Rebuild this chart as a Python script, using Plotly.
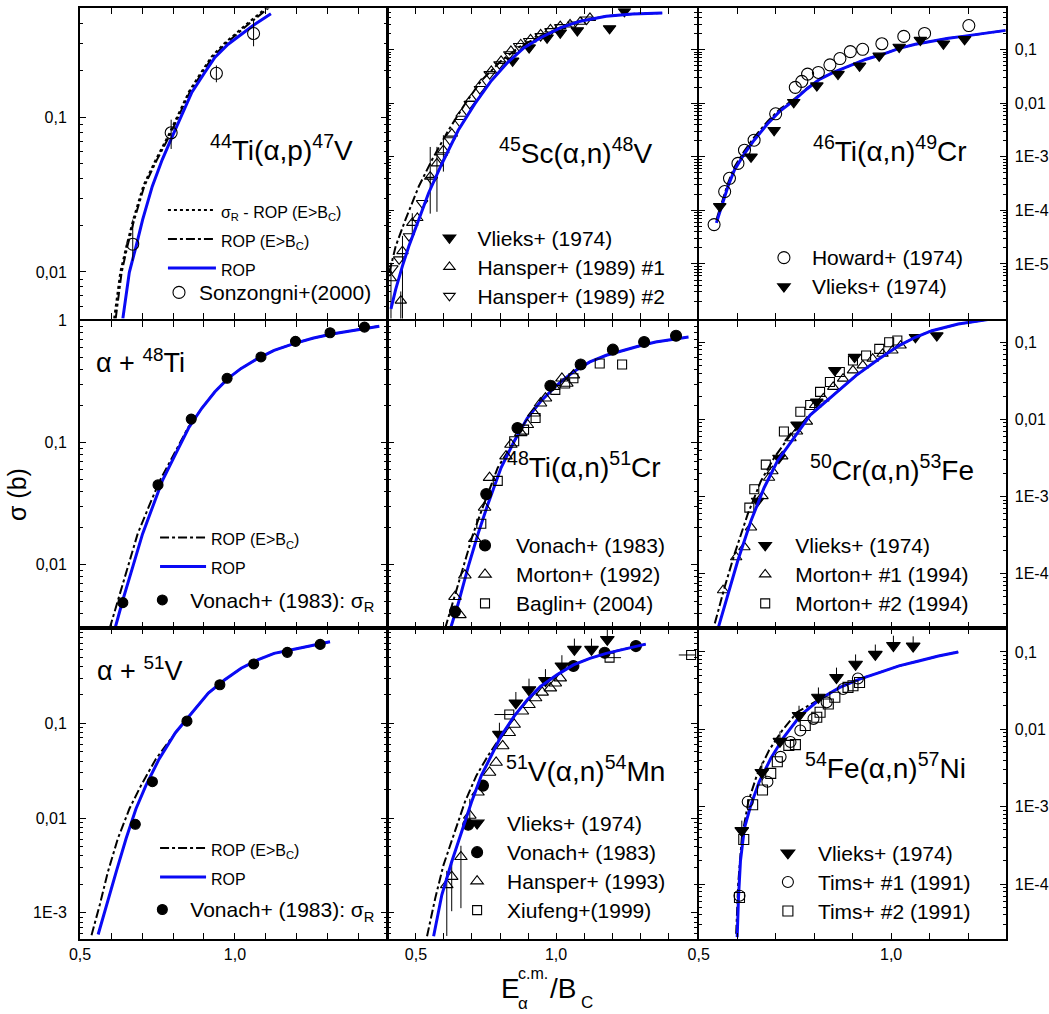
import math
import plotly.graph_objects as go

FONT = "Liberation Sans, Arial, sans-serif"
W, H = 1049, 1014

# ---------------- 44Ti(a,p)47V ----------------
TI44_ROP_X = [0.638, 0.659, 0.681, 0.702, 0.733, 0.765, 0.797, 0.829, 0.861, 0.903, 0.935, 0.978, 1.020, 1.063, 1.116]
TI44_ROP_S = [0.00499, 0.00993, 0.0147, 0.0218, 0.0357, 0.053, 0.0746, 0.105, 0.145, 0.195, 0.243, 0.296, 0.343, 0.397, 0.466]
TI44_ROPBC_X = [0.615, 0.634, 0.653, 0.675, 0.707, 0.748, 0.787, 0.822, 0.854, 0.895, 0.927, 0.968, 1.010, 1.051, 1.099, 1.125]
TI44_ROPBC_S = [0.005, 0.0099, 0.0147, 0.0218, 0.0357, 0.053, 0.0746, 0.105, 0.145, 0.195, 0.243, 0.296, 0.350, 0.410, 0.490, 0.54]
TI44_SR_X = [0.610, 0.630, 0.650, 0.672, 0.704, 0.745, 0.784, 0.820, 0.852, 0.893, 0.925, 0.966, 1.008, 1.049, 1.097, 1.12]
TI44_SR_S = [0.005, 0.0100, 0.0148, 0.0220, 0.0360, 0.0535, 0.0755, 0.106, 0.147, 0.198, 0.247, 0.300, 0.356, 0.418, 0.50, 0.54]
SONZ_X = [0.670, 0.794, 0.940, 1.060]
SONZ_S = [0.0151, 0.0793, 0.192, 0.347]
SONZ_EP = [0.0067, 0.017, 0.024, 0.08]
SONZ_EM = [0.0033, 0.017, 0.024, 0.06]

# ---------------- 45Sc(a,n)48V ----------------
SC45_ROP_X = [0.411, 0.428, 0.452, 0.475, 0.510, 0.545, 0.593, 0.651, 0.710, 0.769, 0.827, 0.886, 0.945, 1.015, 1.086, 1.179, 1.273, 1.379]
SC45_ROP_S = [1.45e-6, 3.4e-6, 9.2e-6, 2.16e-5, 6.7e-5, 2.09e-4, 7.5e-4, 3.13e-3, 9.7e-3, 0.0264, 0.0575, 0.109, 0.167, 0.256, 0.340, 0.422, 0.465, 0.485]
SC45_ROPBC_X = [0.405, 0.428, 0.463, 0.510, 0.557, 0.616, 0.675, 0.733, 0.804, 0.874, 0.945, 1.015, 1.086, 1.179, 1.273, 1.379]
SC45_ROPBC_S = [6.9e-6, 2.16e-5, 6.8e-5, 2.79e-4, 8.7e-4, 3.13e-3, 9.7e-3, 0.0264, 0.0618, 0.117, 0.179, 0.256, 0.340, 0.422, 0.465, 0.485]
SC45_VLIEKS_X = [0.845, 0.904, 0.968, 1.015, 1.076, 1.191, 1.244]
SC45_VLIEKS_S = [0.0618, 0.109, 0.167, 0.207, 0.228, 0.249, 0.521]
SC45_H1_X = [0.411, 0.446, 0.452, 0.487, 0.505, 0.551, 0.575, 0.598, 0.628, 0.663, 0.698, 0.733, 0.769, 0.804, 0.839, 0.874, 0.909, 0.945, 0.980, 1.015, 1.050, 1.086, 1.121]
SC45_H1_S = [5.4e-6, 2.07e-6, 1.74e-5, 5.84e-5, 7.22e-5, 4.27e-4, 7.54e-4, 1.33e-3, 2.71e-3, 6.35e-3, 0.01205, 0.0229, 0.0403, 0.0618, 0.0946, 0.126, 0.156, 0.193, 0.238, 0.275, 0.295, 0.331, 0.392]
SC45_H1_EP = [5.2e-6, 1.0e-6, 1.6e-5, 3.0e-5, 0, 1.1e-3, 7.8e-4, 1.2e-3, 0, 0, 0, 0, 0, 0, 0, 0, 0, 0, 0, 0, 0, 0, 0]
SC45_H1_EM = [5.3e-6, 2.06e-6, 1.7e-5, 3.0e-5, 0, 3.4e-4, 6.6e-4, 8.0e-4, 0, 0, 0, 0, 0, 0, 0, 0, 0, 0, 0, 0, 0, 0, 0]
SC45_H2_X = [0.416, 0.440, 0.475, 0.522, 0.557, 0.593, 0.622, 0.657, 0.692, 0.728, 0.763, 0.798, 0.833, 0.868, 0.904, 0.945, 0.980, 1.015, 1.062, 1.109]
SC45_H2_S = [8.3e-6, 1.22e-5, 3.30e-5, 1.37e-4, 3.71e-4, 1.0e-3, 2.04e-3, 4.46e-3, 9.73e-3, 0.01846, 0.0350, 0.0536, 0.0820, 0.117, 0.145, 0.179, 0.222, 0.263, 0.295, 0.365]

# ---------------- 46Ti(a,n)49Cr ----------------
TI46_ROP_X = [0.546, 0.559, 0.576, 0.593, 0.619, 0.644, 0.679, 0.713, 0.747, 0.781, 0.815, 0.850, 0.892, 0.935, 0.978, 1.021, 1.063, 1.106, 1.149, 1.191, 1.234, 1.298]
TI46_ROP_S = [5.84e-5, 1.19e-4, 2.79e-4, 5.67e-4, 1.15e-3, 2.04e-3, 4.15e-3, 7.33e-3, 0.0112, 0.01846, 0.0282, 0.0376, 0.0499, 0.0664, 0.082, 0.106, 0.126, 0.145, 0.163, 0.179, 0.198, 0.229]
TI46_ROPBC_X = [0.546, 0.559, 0.576, 0.593, 0.619, 0.644, 0.679, 0.713, 0.747, 0.781, 0.815, 0.850, 0.892, 0.935, 0.978, 1.021, 1.063, 1.106, 1.149, 1.191, 1.234, 1.298]
TI46_ROPBC_S = [6.7e-5, 1.37e-4, 3.2e-4, 6.5e-4, 1.3e-3, 2.3e-3, 4.6e-3, 8.0e-3, 0.0118, 0.0190, 0.0285, 0.0376, 0.0499, 0.0664, 0.082, 0.106, 0.126, 0.145, 0.163, 0.179, 0.198, 0.229]
HOWARD_X = [0.540, 0.5675, 0.580, 0.602, 0.619, 0.644, 0.700, 0.751, 0.768, 0.783, 0.811, 0.841, 0.867, 0.894, 0.926, 0.976, 1.033, 1.087, 1.202]
HOWARD_S = [5.43e-5, 2.25e-4, 3.97e-4, 7.53e-4, 1.33e-3, 2.04e-3, 6.35e-3, 0.0198, 0.0256, 0.0350, 0.0376, 0.0521, 0.0683, 0.0920, 0.1017, 0.129, 0.177, 0.201, 0.282]
TI46_VLIEKS_X = [0.5547, 0.636, 0.696, 0.747, 0.807, 0.862, 0.918, 0.969, 1.021, 1.076, 1.136, 1.191]
TI46_VLIEKS_S = [1.19e-4, 1.0e-3, 3.13e-3, 0.01044, 0.0213, 0.035, 0.0499, 0.0765, 0.112, 0.151, 0.129, 0.156]

# ---------------- alpha + 48Ti ----------------
A48_ROP_X = [0.6115, 0.638, 0.670, 0.7017, 0.7335, 0.7654, 0.8078, 0.8503, 0.8928, 0.9352, 0.9777, 1.020, 1.0732, 1.1263, 1.190, 1.2537, 1.3175, 1.381, 1.466]
A48_ROP_S = [0.00292, 0.00513, 0.00957, 0.01786, 0.0294, 0.0485, 0.0799, 0.1316, 0.191, 0.261, 0.336, 0.405, 0.488, 0.570, 0.646, 0.718, 0.779, 0.829, 0.899]
A48_ROPBC_X = [0.5955, 0.622, 0.654, 0.6858, 0.7208, 0.757, 0.8025, 0.848, 0.8928, 0.9352, 0.9777, 1.020, 1.0732, 1.1263, 1.190, 1.2537, 1.3175, 1.381, 1.466]
A48_ROPBC_S = [0.0030, 0.00513, 0.00957, 0.01786, 0.0294, 0.0485, 0.0799, 0.1316, 0.191, 0.261, 0.336, 0.405, 0.488, 0.570, 0.646, 0.718, 0.779, 0.829, 0.899]
A48_VONACH_X = [0.638, 0.7516, 0.8588, 0.9745, 1.0838, 1.1953, 1.3068, 1.418]
A48_VONACH_S = [0.00488, 0.045, 0.1557, 0.336, 0.503, 0.675, 0.794, 0.883]

# ---------------- 48Ti(a,n)51Cr ----------------
TI48_ROP_X = [0.6218, 0.6512, 0.6864, 0.7216, 0.7568, 0.8038, 0.8507, 0.8977, 0.9446, 1.0033, 1.062, 1.1207, 1.1793, 1.238, 1.2967, 1.3554, 1.414, 1.4728]
TI48_ROP_S = [0.00292, 0.00482, 0.00957, 0.01786, 0.0313, 0.0622, 0.1025, 0.159, 0.217, 0.296, 0.380, 0.458, 0.519, 0.570, 0.618, 0.667, 0.701, 0.732]
TI48_ROPBC_X = [0.6042, 0.6336, 0.6688, 0.704, 0.7427, 0.792, 0.8507, 0.8977, 0.9446, 1.0033, 1.062, 1.1207, 1.1793, 1.238, 1.2967, 1.3554, 1.414, 1.4728]
TI48_ROPBC_S = [0.0030, 0.00513, 0.00957, 0.01786, 0.0313, 0.0622, 0.1025, 0.159, 0.217, 0.296, 0.380, 0.458, 0.519, 0.570, 0.618, 0.667, 0.701, 0.732]
TI48_VONACH_X = [0.6394, 0.751, 0.8624, 0.9798, 1.0878, 1.2028, 1.3143, 1.4282]
TI48_VONACH_S = [0.00412, 0.0378, 0.1316, 0.292, 0.436, 0.577, 0.667, 0.75]
MORTON92_X = [0.6394, 0.657, 0.6746, 0.7099, 0.745, 0.7627, 0.8214, 0.839, 0.8742, 0.8977, 0.9211, 0.9446, 0.9622, 0.9915, 1.0209, 1.0385, 1.062]
MORTON92_S = [0.00546, 0.00387, 0.00819, 0.01627, 0.0294, 0.0516, 0.0774, 0.0963, 0.12, 0.140, 0.174, 0.210, 0.231, 0.287, 0.336, 0.305, 0.357]
BAGLIN_X = [0.7333, 0.792, 0.8507, 0.8859, 0.927, 0.9974, 1.0326, 1.062, 1.1559, 1.2357]
BAGLIN_S = [0.0216, 0.0485, 0.1025, 0.1276, 0.159, 0.270, 0.305, 0.336, 0.444, 0.436]

# ---------------- 50Cr(a,n)53Fe ----------------
CR50_ROP_X = [0.5504, 0.5761, 0.6017, 0.6359, 0.670, 0.7043, 0.747, 0.7897, 0.850, 0.9094, 0.9692, 1.0205, 1.0632, 1.106, 1.1744, 1.2598]
CR50_ROP_S = [1.95e-5, 5.5e-5, 1.48e-4, 4.84e-4, 1.30e-3, 2.87e-3, 5.71e-3, 0.0114, 0.0207, 0.0373, 0.0612, 0.0908, 0.1163, 0.1416, 0.1726, 0.200]
CR50_ROPBC_X = [0.5419, 0.5675, 0.5932, 0.6274, 0.6615, 0.6957, 0.7385, 0.7897, 0.850, 0.9094, 0.9692, 1.0205, 1.0632, 1.106, 1.1744, 1.2598]
CR50_ROPBC_S = [2.26e-5, 6.7e-5, 1.8e-4, 5.9e-4, 1.58e-3, 3.16e-3, 6.3e-3, 0.0114, 0.0207, 0.0373, 0.0612, 0.0908, 0.1163, 0.1416, 0.1726, 0.200]
CR50_VLIEKS_X = [0.653, 0.7085, 0.7556, 0.8068, 0.8538, 0.905, 1.0632, 1.1188]
CR50_VLIEKS_S = [8.75e-4, 3.16e-3, 8.5e-3, 0.0169, 0.0433, 0.0643, 0.1163, 0.1222]
MORTON1_X = [0.5633, 0.5974, 0.6188, 0.6359, 0.6658, 0.6829, 0.6915, 0.7171, 0.7385, 0.7556, 0.7812, 0.8026, 0.8239, 0.8496, 0.8752, 0.9009, 0.9265, 0.9521, 0.9778, 1.0034, 1.0248]
MORTON1_S = [6.08e-5, 1.63e-4, 2.20e-4, 3.97e-4, 1.01e-3, 1.75e-3, 2.13e-3, 3.32e-3, 5.71e-3, 6.96e-3, 9.36e-3, 0.01535, 0.0187, 0.0264, 0.0338, 0.0433, 0.0502, 0.0612, 0.0710, 0.0783, 0.0908]
MORTON2_X = [0.6316, 0.6444, 0.6744, 0.7214, 0.7641, 0.7897, 0.8154, 0.8410, 0.8667, 0.9009, 0.9350, 0.9692, 0.9949, 1.0162]
MORTON2_S = [7.18e-4, 1.24e-3, 2.59e-3, 6.96e-3, 0.01259, 0.01535, 0.0228, 0.0306, 0.0412, 0.0582, 0.0676, 0.0822, 0.1002, 0.1054]

# ---------------- alpha + 51V ----------------
A51_ROP_X = [0.5584, 0.585, 0.6168, 0.6486, 0.6805, 0.7123, 0.7548, 0.8078, 0.861, 0.914, 0.967, 1.020, 1.0732, 1.1263, 1.1794, 1.2325, 1.3068]
A51_ROP_S = [5.9e-4, 1.22e-3, 2.72e-3, 6.08e-3, 0.01253, 0.02198, 0.0418, 0.0795, 0.1288, 0.2086, 0.2877, 0.381, 0.466, 0.547, 0.593, 0.643, 0.725]
A51_ROPBC_X = [0.537, 0.5637, 0.590, 0.622, 0.6592, 0.6964, 0.7442, 0.8078, 0.861, 0.914, 0.967, 1.020, 1.0732, 1.1263, 1.1794, 1.2325, 1.3068]
A51_ROPBC_S = [5.8e-4, 1.22e-3, 2.72e-3, 6.08e-3, 0.01253, 0.02198, 0.0418, 0.0795, 0.1288, 0.2086, 0.2877, 0.381, 0.466, 0.547, 0.593, 0.643, 0.725]
A51_VONACH_X = [0.6783, 0.7335, 0.845, 0.9512, 1.0605, 1.1688, 1.275]
A51_VONACH_S = [8.59e-3, 0.0242, 0.1054, 0.255, 0.423, 0.561, 0.680]

# ---------------- 51V(a,n)54Mn ----------------
V51_ROP_X = [0.5631, 0.5925, 0.6277, 0.6629, 0.6981, 0.7333, 0.7685, 0.8038, 0.8507, 0.8977, 0.9446, 1.0033, 1.062, 1.1207, 1.1793, 1.238, 1.3202]
V51_ROP_S = [5.67e-4, 1.55e-3, 3.46e-3, 7.13e-3, 0.01471, 0.028, 0.0453, 0.0734, 0.1189, 0.1776, 0.245, 0.3246, 0.413, 0.485, 0.547, 0.603, 0.685]
V51_ROPBC_X = [0.5397, 0.569, 0.5983, 0.6336, 0.6746, 0.7157, 0.7568, 0.8038, 0.8507, 0.8977, 0.9446, 1.0033, 1.062, 1.1207, 1.1793, 1.238, 1.3202]
V51_ROPBC_S = [5.67e-4, 1.43e-3, 3.19e-3, 6.58e-3, 0.01471, 0.028, 0.0453, 0.0734, 0.1189, 0.1776, 0.245, 0.3246, 0.413, 0.485, 0.547, 0.603, 0.685]
V51_VLIEKS_X = [0.7979, 0.8566, 0.9035, 0.9622, 1.0209, 1.0655, 1.1265, 1.1829]
V51_VLIEKS_S = [0.0764, 0.164, 0.226, 0.283, 0.403, 0.603, 0.603, 0.767]
V51_VLIEKS_EP = [0.025, 0.05, 0.07, 0.09, 0.12, 0.18, 0.18, 0.23]
V51_VONACH_X = [0.6864, 0.7392, 1.062, 1.1735, 1.285]
V51_VONACH_S = [8.51e-3, 0.022, 0.403, 0.556, 0.653]
HANSPER93_X = [0.6101, 0.6277, 0.6606, 0.6923, 0.7216, 0.7627, 0.7862, 0.8096, 0.8331, 0.8507, 0.88, 0.9035, 0.927, 0.9505, 0.9798, 0.9974, 1.015]
HANSPER93_S = [1.97e-3, 2.41e-3, 3.9e-3, 0.01066, 0.0187, 0.0303, 0.0386, 0.0577, 0.0795, 0.0972, 0.134, 0.157, 0.185, 0.212, 0.235, 0.265, 0.2995]
HANSPER93_EP = [0.0008, 0.0009, 0.0012, 0.0053, 0, 0, 0, 0, 0, 0, 0, 0, 0, 0, 0, 0, 0]
HANSPER93_EM = [0.0014, 0.00137, 0.00278, 0.0030, 0, 0, 0, 0, 0, 0, 0, 0, 0, 0, 0, 0, 0]
XIUFENG_X = [0.8331, 1.191, 1.482]
XIUFENG_S = [0.1238, 0.493, 0.526]
XIUFENG_XP = [0.018, 0.041, 0.015]
XIUFENG_XM = [0.053, 0.023, 0.044]

# ---------------- 54Fe(a,n)57Ni ----------------
FE54_ROP_X = [0.600, 0.6034, 0.6085, 0.6188, 0.6359, 0.6573, 0.6872, 0.7214, 0.7641, 0.8154, 0.8667, 0.918, 0.9692, 1.0205, 1.0718, 1.123, 1.1744]
FE54_ROP_S = [2.06e-5, 6.7e-5, 1.98e-4, 5.3e-4, 1.06e-3, 2.1e-3, 4.19e-3, 7.94e-3, 0.01507, 0.0246, 0.0348, 0.0444, 0.054, 0.0659, 0.0764, 0.0885, 0.0996]
FE54_ROPBC_X = [0.5974, 0.6026, 0.612, 0.629, 0.6513, 0.6829, 0.7171, 0.7556, 0.8154, 0.8667, 0.918, 0.9692, 1.0205, 1.0718, 1.123, 1.1744]
FE54_ROPBC_S = [2.27e-5, 9.95e-5, 3.94e-4, 1.16e-3, 2.56e-3, 5.36e-3, 9.66e-3, 0.0166, 0.0246, 0.0348, 0.0444, 0.054, 0.0659, 0.0764, 0.0885, 0.0996]
FE54_VLIEKS_X = [0.612, 0.6641, 0.7111, 0.7607, 0.8111, 0.8581, 0.9077, 0.959, 1.006, 1.0573]
FE54_VLIEKS_S = [4.9e-4, 2.77e-3, 6.98e-3, 0.01507, 0.0259, 0.0467, 0.0692, 0.0929, 0.121, 0.1189]
FE54_VLIEKS_EP = [1.7e-4, 9.4e-4, 2.4e-3, 5.1e-3, 8.8e-3, 0.0159, 0.0235, 0.0316, 0.041, 0.040]
TIMS1_X = [0.606, 0.6274, 0.6786, 0.7128, 0.7385, 0.7641, 0.7983, 0.8325, 0.8752, 0.9137]
TIMS1_S = [7.05e-5, 1.16e-3, 2.1e-3, 4.4e-3, 6.85e-3, 9.66e-3, 0.01364, 0.0223, 0.0331, 0.0453]
TIMS2_X = [0.606, 0.6171, 0.6402, 0.6658, 0.6872, 0.7043, 0.7342, 0.7513, 0.7769, 0.8068, 0.8154, 0.8368, 0.8538, 0.888, 0.9009, 0.918]
TIMS2_S = [6.7e-5, 3.76e-4, 1.06e-3, 1.64e-3, 2.69e-3, 3.8e-3, 6.2e-3, 6.33e-3, 0.0112, 0.01432, 0.0166, 0.0212, 0.0259, 0.0348, 0.0365, 0.0403]

# ---------------- axes ----------------
Y_TICK_TEXT = {0: "1", -1: "0,1", -2: "0,01", -3: "1E-3", -4: "1E-4", -5: "1E-5"}
X_TICK_TEXT = {0.5: "0,5", 1.0: "1,0"}

COLS = [(70, 381), (382, 695), (697, 1008)]
ROWS = [(0.5, 313), (315, 625), (625, 938)]
X_RANGES = [(0.5, 1.4904), (0.4, 1.502), (0.5, 1.2974)]
Y_RANGES = {
    (0, 0): (-2.301, -0.298), (0, 1): (-6.0185, -0.2315), (0, 2): (-6.0185, -0.2315),
    (1, 0): (-2.520, 0.0), (1, 1): (-2.520, 0.0), (1, 2): (-4.7066, -0.7169),
    (2, 0): (-3.272, 0.005), (2, 1): (-3.272, 0.005), (2, 2): (-4.705, -0.692),
}
Y_LABELLED = {
    (0, 0): [-1, -2], (1, 0): [0, -1, -2], (2, 0): [-1, -2, -3],
    (0, 2): [-1, -2, -3, -4, -5], (1, 2): [-1, -2, -3, -4], (2, 2): [-1, -2, -3, -4],
}

BLUE = "rgb(10,10,245)"


def sfx(p):
    return "" if p == 0 else str(p + 1)


def px(x):
    return x / W


def py(y):
    return 1 - y / H


fig = go.Figure()


def add_line(p, x, y, kind, name=None, legend=None):
    style = {
        "rop": dict(color=BLUE, width=3, dash="solid"),
        "ropbc": dict(color="black", width=2, dash="dashdot"),
        "sr": dict(color="black", width=2, dash="dot"),
    }[kind]
    fig.add_trace(go.Scatter(
        x=x, y=y, mode="lines", line=style, name=name or "",
        showlegend=name is not None, legend=legend,
        xaxis="x" + sfx(p), yaxis="y" + sfx(p), hoverinfo="skip"))


def add_pts(p, x, y, symbol, name=None, legend=None, ep=None, em=None,
            xp=None, xm=None, size=11):
    kw = {}
    if ep is not None:
        kw["error_y"] = dict(type="data", symmetric=False, array=ep,
                             arrayminus=em if em is not None else [0] * len(ep),
                             color="black", thickness=1, width=0)
    if xp is not None:
        kw["error_x"] = dict(type="data", symmetric=False, array=xp,
                             arrayminus=xm, color="black", thickness=1, width=0)
    fig.add_trace(go.Scatter(
        x=x, y=y, mode="markers", name=name or "",
        marker=dict(symbol=symbol, size=size, color="black",
                    line=dict(color="black", width=1.1)),
        showlegend=name is not None, legend=legend,
        xaxis="x" + sfx(p), yaxis="y" + sfx(p), hoverinfo="skip", **kw))


def small(t):
    return '<span style="font-size:16px">' + t + "</span>"


def big(t):
    return '<span style="font-size:21px">' + t + "</span>"


ROPBC = "ROP (E&gt;B<sub>C</sub>)"

# panel 1
add_line(0, TI44_SR_X, TI44_SR_S, "sr", small("σ<sub>R</sub> - ROP (E&gt;B<sub>C</sub>)"), "legend")
add_line(0, TI44_ROPBC_X, TI44_ROPBC_S, "ropbc", small(ROPBC), "legend")
add_line(0, TI44_ROP_X, TI44_ROP_S, "rop", small("ROP"), "legend")
add_pts(0, SONZ_X, SONZ_S, "circle-open", big("Sonzongni+(2000)"), "legend10", SONZ_EP, SONZ_EM, size=12)

# panel 2
add_line(1, SC45_ROPBC_X, SC45_ROPBC_S, "ropbc")
add_pts(1, SC45_VLIEKS_X, SC45_VLIEKS_S, "triangle-down", big("Vlieks+ (1974)"), "legend2")
add_pts(1, SC45_H1_X, SC45_H1_S, "triangle-up-open", big("Hansper+ (1989) #1"), "legend2", SC45_H1_EP, SC45_H1_EM, size=10)
add_pts(1, SC45_H2_X, SC45_H2_S, "triangle-down-open", big("Hansper+ (1989) #2"), "legend2", size=10)
add_line(1, SC45_ROP_X, SC45_ROP_S, "rop")

# panel 3
add_line(2, TI46_ROPBC_X, TI46_ROPBC_S, "ropbc")
add_line(2, TI46_ROP_X, TI46_ROP_S, "rop")
add_pts(2, HOWARD_X, HOWARD_S, "circle-open", big("Howard+ (1974)"), "legend3", size=12)
add_pts(2, TI46_VLIEKS_X, TI46_VLIEKS_S, "triangle-down", big("Vlieks+ (1974)"), "legend3")

# panel 4
add_line(3, A48_ROPBC_X, A48_ROPBC_S, "ropbc", small(ROPBC), "legend4")
add_line(3, A48_ROP_X, A48_ROP_S, "rop", small("ROP"), "legend4")
add_pts(3, A48_VONACH_X, A48_VONACH_S, "circle", big("Vonach+ (1983): σ<sub>R</sub>"), "legend11", size=10)

# panel 5
add_line(4, TI48_ROPBC_X, TI48_ROPBC_S, "ropbc")
add_line(4, TI48_ROP_X, TI48_ROP_S, "rop")
add_pts(4, TI48_VONACH_X, TI48_VONACH_S, "circle", big("Vonach+ (1983)"), "legend5", size=11)
add_pts(4, MORTON92_X, MORTON92_S, "triangle-up-open", big("Morton+ (1992)"), "legend5", size=11)
add_pts(4, BAGLIN_X, BAGLIN_S, "square-open", big("Baglin+ (2004)"), "legend5", size=9)

# panel 6
add_line(5, CR50_ROPBC_X, CR50_ROPBC_S, "ropbc")
add_pts(5, CR50_VLIEKS_X, CR50_VLIEKS_S, "triangle-down", big("Vlieks+ (1974)"), "legend6")
add_pts(5, MORTON1_X, MORTON1_S, "triangle-up-open", big("Morton+ #1 (1994)"), "legend6", size=10)
add_pts(5, MORTON2_X, MORTON2_S, "square-open", big("Morton+ #2 (1994)"), "legend6", size=9)
add_line(5, CR50_ROP_X, CR50_ROP_S, "rop")

# panel 7
add_line(6, A51_ROPBC_X, A51_ROPBC_S, "ropbc", small(ROPBC), "legend7")
add_line(6, A51_ROP_X, A51_ROP_S, "rop", small("ROP"), "legend7")
add_pts(6, A51_VONACH_X, A51_VONACH_S, "circle", big("Vonach+ (1983): σ<sub>R</sub>"), "legend12", size=10)

# panel 8
add_line(7, V51_ROPBC_X, V51_ROPBC_S, "ropbc")
add_pts(7, V51_VLIEKS_X, V51_VLIEKS_S, "triangle-down", big("Vlieks+ (1974)"), "legend8", V51_VLIEKS_EP, size=12)
add_pts(7, V51_VONACH_X, V51_VONACH_S, "circle", big("Vonach+ (1983)"), "legend8", size=11)
add_pts(7, HANSPER93_X, HANSPER93_S, "triangle-up-open", big("Hansper+ (1993)"), "legend8", HANSPER93_EP, HANSPER93_EM, size=11)
add_pts(7, XIUFENG_X, XIUFENG_S, "square-open", big("Xiufeng+(1999)"), "legend8", xp=XIUFENG_XP, xm=XIUFENG_XM, size=9)
add_line(7, V51_ROP_X, V51_ROP_S, "rop")

# panel 9
add_line(8, FE54_ROPBC_X, FE54_ROPBC_S, "ropbc")
add_line(8, FE54_ROP_X, FE54_ROP_S, "rop")
add_pts(8, FE54_VLIEKS_X, FE54_VLIEKS_S, "triangle-down", big("Vlieks+ (1974)"), "legend9", FE54_VLIEKS_EP, size=12)
add_pts(8, TIMS1_X, TIMS1_S, "circle-open", big("Tims+ #1 (1991)"), "legend9", size=11)
add_pts(8, TIMS2_X, TIMS2_S, "square-open", big("Tims+ #2 (1991)"), "legend9", size=10)

layout = dict(
    width=W, height=H, margin=dict(l=0, r=0, t=0, b=0),
    paper_bgcolor="white", plot_bgcolor="white",
    font=dict(family=FONT, size=16, color="black"),
)

for r in range(3):
    for c in range(3):
        p = r * 3 + c
        s = sfx(p)
        x0, x1 = COLS[c]
        y0, y1 = ROWS[r]
        xr = X_RANGES[c]
        xt = [round(0.4 + 0.1 * k, 1) for k in range(12)]
        xt = [v for v in xt if xr[0] - 1e-9 <= v <= xr[1] + 1e-9]
        xtxt = [X_TICK_TEXT.get(v, "") if r == 2 else "" for v in xt]
        layout["xaxis" + s] = dict(
            domain=[px(x0), px(x1)], range=list(xr), anchor="y" + s,
            showline=True, linewidth=2, linecolor="black", mirror="ticks",
            ticks="inside", ticklen=6, tickwidth=1.2, tickcolor="black",
            tickmode="array", tickvals=xt, ticktext=xtxt,
            showgrid=False, zeroline=False, ticklabelstandoff=0,
            tickfont=dict(family=FONT, size=16),
        )
        lo, hi = Y_RANGES[(r, c)]
        decs = [k for k in range(-7, 2) if lo - 1e-9 <= k <= hi + 1e-9]
        minors = [m * 10 ** k for k in range(-7, 1) for m in range(2, 10)]
        minors = [v for v in minors if lo <= math.log10(v) <= hi]
        lab = Y_LABELLED.get((r, c), [])
        layout["yaxis" + s] = dict(
            domain=[py(y1), py(y0)], range=[lo, hi], type="log", anchor="x" + s,
            side="right" if c == 2 else "left",
            showline=True, linewidth=2, linecolor="black", mirror="ticks",
            ticks="inside", ticklen=6, tickwidth=1.2, tickcolor="black",
            tickmode="array", tickvals=[10 ** k for k in decs],
            ticktext=[Y_TICK_TEXT[k] if k in lab else "" for k in decs],
            showticklabels=(c != 1),
            minor=dict(tickvals=minors, ticks="inside", ticklen=3, tickcolor="black",
                       tickwidth=1, showgrid=False),
            showgrid=False, zeroline=False,
            ticklabelstandoff=8 if c == 0 else 4,
            tickfont=dict(family=FONT, size=16),
        )

# legends: (text start x, first row centre y, symbol width) in pixels
LEG_POS = {
    "legend": (218, 210, 48), "legend10": (196, 293, 30),
    "legend2": (478, 238, 46), "legend3": (817, 258, 46),
    "legend4": (208, 540, 46), "legend11": (187, 603, 46),
    "legend5": (517, 548, 52), "legend6": (800, 548, 50),
    "legend7": (208, 853, 46), "legend12": (187, 915, 46),
    "legend8": (508, 828, 50), "legend9": (823, 858, 50),
}
for key, (tx, ty, iw) in LEG_POS.items():
    layout[key] = dict(
        x=px(tx - iw - 16), y=py(ty - 26), xanchor="left", yanchor="top",
        bgcolor="rgba(0,0,0,0)", borderwidth=0, itemwidth=iw,
        font=dict(family=FONT, size=20, color="black"),
        tracegroupgap=0, traceorder="normal", itemclick=False, itemdoubleclick=False,
    )

fig.update_layout(**layout)

# panel titles
TITLES = [
    ("<sup>44</sup>Ti(α,p)<sup>47</sup>V", 200, 141, 28),
    ("<sup>45</sup>Sc(α,n)<sup>48</sup>V", 493, 144, 28),
    ("<sup>46</sup>Ti(α,n)<sup>49</sup>Cr", 811, 142, 28),
    ("α + <sup>48</sup>Ti", 84, 356, 27),
    ("<sup>48</sup>Ti(α,n)<sup>51</sup>Cr", 501, 461, 28),
    ("<sup>50</sup>Cr(α,n)<sup>53</sup>Fe", 808, 464, 28),
    ("α + <sup>51</sup>V", 85, 666, 27),
    ("<sup>51</sup>V(α,n)<sup>54</sup>Mn", 500, 767, 28),
    ("<sup>54</sup>Fe(α,n)<sup>57</sup>Ni", 803, 764, 28),
]
for text, tx, ty, fs in TITLES:
    fig.add_annotation(text=text, x=px(tx), y=py(ty), xref="paper", yref="paper",
                       xanchor="left", yanchor="middle", showarrow=False,
                       font=dict(family=FONT, size=fs, color="black"))

# axis titles
fig.add_annotation(text="σ (b)", x=px(6), y=py(490), xref="paper", yref="paper",
                   xanchor="center", yanchor="middle",
                   textangle=-90, showarrow=False, font=dict(family=FONT, size=25))
for text, tx, ty, fs in [("E", 495, 988, 28), ("c.m.", 512, 973, 16), ("α", 512, 1003, 17),
                         ("/B", 544, 988, 28), ("C", 576, 1002, 17)]:
    fig.add_annotation(text=text, x=px(tx), y=py(ty), xref="paper", yref="paper",
                       xanchor="left", yanchor="middle", showarrow=False,
                       font=dict(family=FONT, size=fs, color="black"))

fig.write_html("out.html")
